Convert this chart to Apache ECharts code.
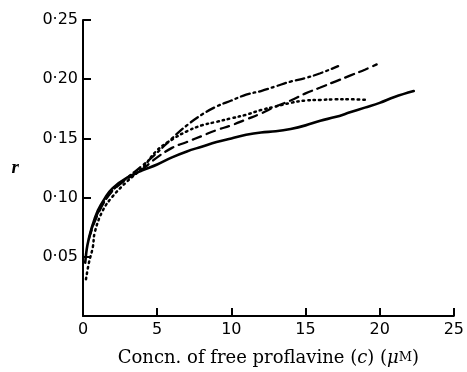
<!DOCTYPE html>
<html lang="en">
<head>
<meta charset="UTF-8">
<title>r vs free proflavine</title>
<style>
  html, body { margin: 0; padding: 0; background: #fff; }
  #chart { width: 467px; height: 372px; }
</style>
</head>
<body>
<div id="chart"></div>
<script src="https://cdn.jsdelivr.net/npm/echarts@6/dist/echarts.min.js"></script>
<script>
  // values: [concn (uM), r]
  var solidLine = [[0.15, 0.045], [0.3, 0.06], [0.6, 0.075], [1, 0.089], [1.5, 0.1], [2, 0.108], [3, 0.117],
    [4, 0.123], [5, 0.128], [6, 0.134], [7, 0.139], [8, 0.143], [9, 0.147], [10, 0.15], [11, 0.153],
    [12, 0.155], [13, 0.156], [14, 0.158], [15, 0.161], [16, 0.165], [17, 0.168], [18, 0.172],
    [19, 0.176], [20, 0.18], [21, 0.185], [22.3, 0.19]];
  var dashedLine = [[0.4, 0.065], [0.8, 0.08], [1.5, 0.098], [2, 0.106], [3, 0.116], [4, 0.124], [5, 0.134],
    [6, 0.142], [7, 0.147], [8, 0.152], [9, 0.157], [10, 0.161], [11, 0.166], [12, 0.171], [13, 0.177],
    [14, 0.182], [15, 0.188], [16, 0.193], [17, 0.198], [18, 0.203], [19, 0.208], [19.8, 0.2125]];
  var dottedLine = [[0.2, 0.031], [0.4, 0.045], [0.66, 0.058], [0.8, 0.071], [1.33, 0.089], [2, 0.101],
    [3, 0.114], [4, 0.125], [5, 0.14], [6, 0.149], [7, 0.156], [8, 0.161], [9, 0.164], [10, 0.167],
    [11, 0.17], [12, 0.174], [13, 0.177], [14, 0.18], [15, 0.182], [16, 0.1825], [17, 0.183],
    [18, 0.183], [19.2, 0.1825]];
  var dashDotLine = [[0.5, 0.07], [1, 0.087], [2, 0.106], [3, 0.117], [4, 0.127], [5, 0.138], [6, 0.15],
    [7, 0.161], [8, 0.17], [9, 0.177], [10, 0.182], [11, 0.187], [12, 0.19], [13, 0.194], [14, 0.198],
    [15, 0.201], [16, 0.205], [17.2, 0.211]];
  var xTicks = [0, 5, 10, 15, 20, 25];
  var yTicks = [0.05, 0.10, 0.15, 0.20, 0.25];

  var chart = echarts.init(document.getElementById('chart'));

  function line(data, type, width) {
    return {
      type: 'line',
      data: data,
      smooth: 0.4,
      showSymbol: false,
      silent: true,
      lineStyle: { color: '#000', width: width, type: type, cap: 'round' }
    };
  }

  var option = {
    animation: false,
    grid: { left: 83, right: 7, top: 20, bottom: 52 },
    xAxis: {
      type: 'value',
      min: xTicks[0],
      max: xTicks[xTicks.length - 1],
      interval: 5,
      axisLine: { lineStyle: { color: '#000', width: 2 } },
      axisTick: { inside: true, length: 8, lineStyle: { color: '#000', width: 2 } },
      splitLine: { show: false },
      axisLabel: { color: '#000', fontSize: 16, fontFamily: 'DejaVu Sans', margin: 6 },
      name: 'Concn. of free proflavine ({i|c}) ({i|\u03bc}{s|M})',
      nameLocation: 'middle',
      nameGap: 33,
      nameTextStyle: {
        color: '#000', fontSize: 18, fontFamily: 'DejaVu Serif',
        rich: {
          i: { fontStyle: 'italic', fontSize: 18, fontFamily: 'DejaVu Serif', color: '#000' },
          s: { fontSize: 13, fontFamily: 'DejaVu Serif', color: '#000' }
        }
      }
    },
    yAxis: {
      type: 'value',
      min: 0,
      max: yTicks[yTicks.length - 1],
      interval: 0.05,
      axisLine: { lineStyle: { color: '#000', width: 2 } },
      axisTick: { inside: true, length: 8, lineStyle: { color: '#000', width: 2 } },
      splitLine: { show: false },
      axisLabel: {
        color: '#000', fontSize: 16, fontFamily: 'DejaVu Sans', margin: 5,
        formatter: function (v) {
          if (v === 0) return '';
          return v.toFixed(2).replace('.', '\u00b7');
        }
      },
      name: 'r',
      nameLocation: 'middle',
      nameRotate: 0,
      nameGap: 64,
      nameTextStyle: {
        color: '#000', fontSize: 19, fontStyle: 'italic', fontWeight: 'bold',
        fontFamily: 'Liberation Serif', padding: [14, 0, 0, 0]
      }
    },
    series: [
      line(solidLine, 'solid', 2.6),
      line(dashedLine, [9, 6], 2.3),
      line(dottedLine, [1.5, 4], 2.5),
      line(dashDotLine, [9, 4, 2, 4], 2.3)
    ]
  };
  chart.setOption(option);
</script>
</body>
</html>
